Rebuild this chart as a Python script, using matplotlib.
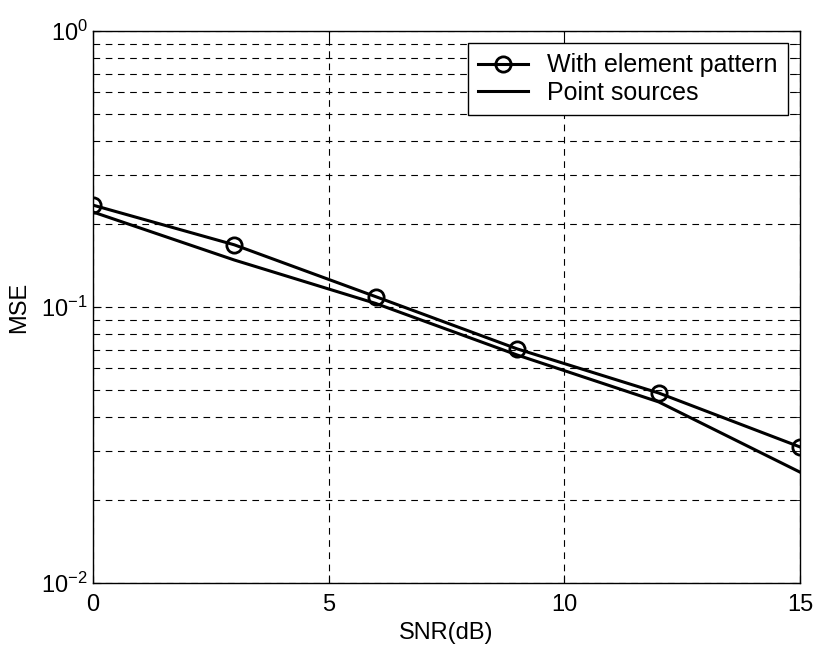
import numpy as np
import matplotlib
matplotlib.use("Agg")
import matplotlib.pyplot as plt
from matplotlib.ticker import LogLocator, NullFormatter

plt.rcParams['font.family'] = ['Liberation Sans', 'DejaVu Sans']
plt.rcParams['mathtext.fontset'] = 'custom'
plt.rcParams['mathtext.rm'] = 'Liberation Sans'

# data
snr = [0, 3, 6, 9, 12, 15]
mse_element = [0.234, 0.168, 0.109, 0.0705, 0.0488, 0.0311]
mse_point = [0.221, 0.148, 0.103, 0.067, 0.0453, 0.0252]
x_ticks = [0, 5, 10, 15]

fig = plt.figure(figsize=(8.14, 6.52), dpi=100)
ax = fig.add_axes([0.114, 0.1058, 0.869, 0.8467])

ax.semilogy(snr, mse_element, '-o', color='black', lw=2.2, ms=11,
            mfc='none', mew=2.0, label='With element pattern')
ax.semilogy(snr, mse_point, '-', color='black', lw=2.2, label='Point sources')

ax.set_xlim(0, 15)
ax.set_ylim(1e-2, 1e0)
ax.set_xticks(x_ticks)
ax.yaxis.set_major_locator(LogLocator(base=10))
ax.yaxis.set_minor_locator(LogLocator(base=10, subs=np.arange(2, 10)))
ax.yaxis.set_minor_formatter(NullFormatter())

ax.grid(True, which='major', axis='x', ls=(0, (6, 5)), color='black', lw=0.8)
ax.grid(True, which='both', axis='y', ls=(0, (6, 5)), color='black', lw=0.8)

ax.tick_params(which='both', direction='in', top=True, right=True, labelsize=17)
ax.tick_params(which='major', length=6)
ax.tick_params(which='minor', length=3)
ax.tick_params(axis='x', pad=8)
for s in ax.spines.values():
    s.set_linewidth(1.0)

ax.set_xlabel('SNR(dB)', fontsize=17, labelpad=4)
ax.set_ylabel('MSE', fontsize=17, labelpad=8)

leg = ax.legend(loc='upper right', fontsize=18, frameon=True, fancybox=False,
                edgecolor='black', framealpha=1, borderaxespad=0.5,
                handlelength=2.0, handletextpad=0.75, borderpad=0.4,
                labelspacing=0.15)
leg.get_frame().set_linewidth(1.0)

fig.savefig('out.png', dpi=100)
